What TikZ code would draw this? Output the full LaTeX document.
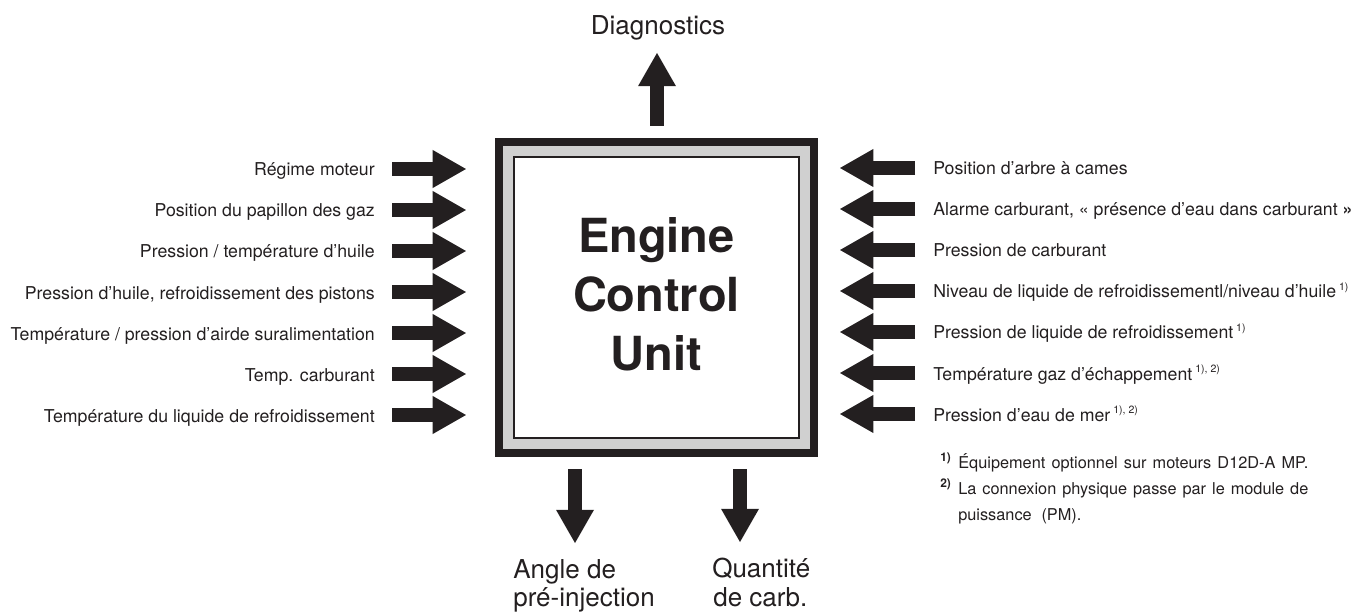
\documentclass[tikz,border=0pt]{standalone}
\usepackage{fontspec}
\setmainfont{TeX Gyre Heros}
\usetikzlibrary{arrows.meta}
\definecolor{inkc}{RGB}{35,31,32}
\definecolor{bandc}{RGB}{208,208,208}
\newcommand{\supmark}[1]{\,\raisebox{0.45em}{\fontsize{7.5}{8}\selectfont #1}}
\newcommand{\notemark}[1]{\raisebox{0.4em}{\fontsize{8.5}{9}\bfseries\selectfont #1}}
\begin{document}
\begin{tikzpicture}[
  x=0.025cm, y=-0.025cm,
  every node/.style={text=inkc, inner sep=0pt},
  lab/.style={font=\fontsize{12.6}{15}\selectfont},
  big/.style={font=\fontsize{18.5}{21}\selectfont},
  note/.style={font=\fontsize{11.6}{13}\selectfont},
  sig/.style={draw=inkc, line width=0.33cm, -{Triangle[length=0.83cm, width=0.95cm, line width=0pt]}}
]
  \useasboundingbox (0,0) rectangle (1360,616);

  % Boitier ECU
  \node[draw=inkc, line width=0.2cm, fill=bandc, minimum width=7.875cm, minimum height=7.775cm] (ecu) at (656.5,297.5) {};
  \node[draw=inkc, line width=0.0625cm, fill=white, minimum width=7.1125cm, minimum height=7.0125cm] (ecuin) at (ecu.center) {};
  \node[font=\fontsize{33.4}{42}\bfseries\selectfont, align=center] (ecutxt) at ([yshift=0.075cm]ecu.center) {Engine\\Control\\Unit};

  % Entrees gauche
  \foreach \txt [count=\i] in {{Régime moteur}, {Position du papillon des gaz}, {Pression / température d’huile},
      {Pression d’huile, refroidissement des pistons}, {Température / pression d’airde suralimentation},
      {Temp. carburant}, {Température du liquide de refroidissement}} {
    \pgfmathsetmacro{\yy}{169+41*(\i-1)}
    \coordinate (ls\i) at (392,\yy);
    \node[lab, anchor=base east] (lin\i) at (375,\yy+7) {\txt};
    \draw[sig, shorten >=0.725cm] (ls\i) -- (ls\i -| ecu.west);
  }

  % Entrees droite
  \foreach \txt [count=\i] in {{Position d’arbre à cames}, {Alarme carburant, « présence d’eau dans carburant \textbf{»}},
      {Pression de carburant}, {Niveau de liquide de refroidissementl/niveau d’huile\supmark{1)}},
      {Pression de liquide de refroidissement\supmark{1)}}, {Température gaz d’échappement\supmark{1), 2)}},
      {Pression d’eau de mer\supmark{1), 2)}}} {
    \pgfmathsetmacro{\yy}{168+41*(\i-1)}
    \coordinate (rs\i) at (915,\yy);
    \node[lab, anchor=base west] (rin\i) at (933,\yy+7) {\txt};
    \draw[sig, shorten >=0.55cm] (rs\i) -- (rs\i -| ecu.east);
  }

  % Sorties
  \coordinate (dtip) at (657,53);
  \coordinate (atip) at (575,543);
  \coordinate (qtip) at (740,542);
  \draw[sig, shorten <=0.3cm] (dtip |- ecu.north) -- (dtip);
  \draw[sig, shorten <=0.3cm] (atip |- ecu.south) -- (atip);
  \draw[sig, shorten <=0.3cm] (qtip |- ecu.south) -- (qtip);

  \node[big, anchor=base] (diag) at (658,35) {Diagnostics};
  \node[big, anchor=base west] (ang1) at (513,578) {Angle de};
  \node[big, anchor=base west] (ang2) at (513,606) {pré-injection};
  \node[big, anchor=base west] (qty1) at (712,577) {Quantité};
  \node[big, anchor=base west] (qty2) at (713,606) {de carb.};

  % Notes
  \node[note, anchor=base west] (fm1) at (940,468) {\notemark{1)}};
  \node[note, anchor=base west] (fn1) at (958,468) {\makebox[8.75cm][s]{Équipement optionnel sur moteurs D12D-A MP.}};
  \node[note, anchor=base west] (fm2) at (940,494) {\notemark{2)}};
  \node[note, anchor=base west] (fn2) at (958,494) {\makebox[8.75cm][s]{La connexion physique passe par le module de}};
  \node[note, anchor=base west] (fn3) at (958,520) {puissance\hspace{0.6em}(PM).};
\end{tikzpicture}
\end{document}
